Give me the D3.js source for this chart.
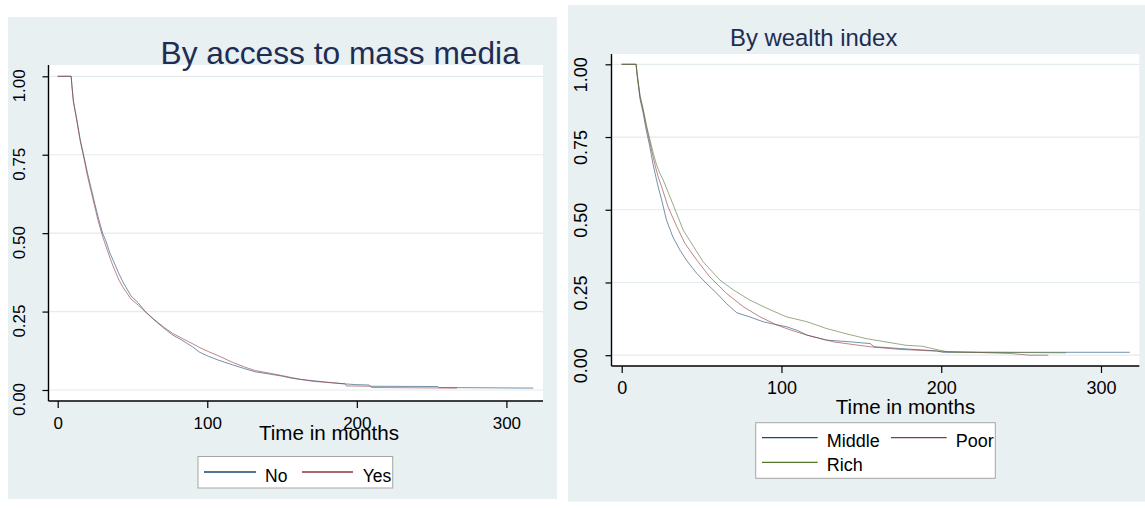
<!DOCTYPE html>
<html>
<head>
<meta charset="utf-8">
<script src="https://cdn.jsdelivr.net/npm/d3@7"></script>
<style>
  html, body { margin: 0; padding: 0; background: #ffffff; }
  svg { display: block; font-family: "Liberation Sans", Arial, Helvetica, sans-serif; }
</style>
</head>
<body>
<svg id="chart" width="1145" height="508"></svg>
<script>
// Kaplan–Meier survival estimates: [time in months, survival probability]
const xTicks = [0, 100, 200, 300];
const yTicks = [0, 0.25, 0.5, 0.75, 1];
const yTickLabels = ["0.00", "0.25", "0.50", "0.75", "1.00"];

const mediaLabels = ["No", "Yes"];
const mediaNo = [[0,1],[9,1],[9.5,0.97],[10.5,0.92],[12.5,0.87],[15,0.8],[17.5,0.745],[20,0.69],[22.5,0.64],[25,0.59],[27,0.552],[30,0.5],[32,0.478],[35,0.435],[37,0.414],[41,0.37],[44,0.341],[49,0.3],[54,0.277],[58.5,0.25],[64,0.225],[71,0.197],[77,0.175],[83,0.159],[90,0.138],[95,0.12],[101,0.107],[107,0.096],[117,0.08],[125,0.068],[132,0.058],[140,0.052],[149,0.045],[156,0.038],[162,0.034],[170,0.03],[180,0.025],[190,0.02],[200,0.017],[208,0.016],[209,0.012],[254,0.011],[255,0.008],[318,0.006]];
const mediaYes = [[0,1],[9,1],[9.5,0.97],[10.5,0.92],[12.5,0.865],[15,0.795],[17.5,0.74],[20,0.68],[22.5,0.63],[25,0.58],[27,0.54],[30,0.49],[32,0.462],[35,0.42],[37,0.395],[41,0.35],[44,0.325],[49,0.29],[54,0.27],[58.5,0.25],[64,0.227],[71,0.2],[77,0.18],[83,0.165],[90,0.148],[95,0.135],[101,0.122],[107,0.11],[117,0.088],[125,0.073],[132,0.062],[140,0.055],[149,0.047],[156,0.04],[162,0.034],[170,0.028],[180,0.024],[192,0.02],[193,0.013],[209,0.012],[210,0.008],[267,0.006]];

const wealthLabels = ["Middle", "Poor", "Rich"];
const wealthMiddle = [[0,1],[9,1],[9.5,0.97],[10,0.945],[11.5,0.88],[13.5,0.83],[15.5,0.77],[17.5,0.72],[19.5,0.66],[21.5,0.61],[23,0.575],[25,0.534],[28,0.465],[32,0.407],[36.5,0.361],[40.5,0.327],[47,0.281],[53,0.247],[59.5,0.213],[65.5,0.178],[72,0.146],[80,0.132],[88.5,0.115],[95,0.107],[103,0.098],[110,0.085],[116,0.069],[128,0.052],[143,0.046],[155.5,0.04],[158,0.029],[174,0.023],[197,0.015],[201,0.01],[318,0.01]];
const wealthPoor = [[0,1],[9,1],[9.5,0.975],[10,0.95],[11.5,0.89],[13.5,0.84],[15.5,0.785],[17.5,0.735],[19.5,0.685],[21.5,0.64],[23,0.61],[25,0.579],[29,0.51],[34.5,0.442],[39.5,0.385],[47,0.327],[55,0.27],[65.5,0.213],[76,0.167],[86.5,0.132],[97,0.104],[105.5,0.087],[116,0.069],[132.5,0.046],[143,0.038],[155.5,0.029],[174,0.02],[197,0.014],[243,0.006],[255.5,0.0],[267,0.0]];
const wealthRich = [[0,1],[9,1],[9.5,0.975],[10,0.955],[11.5,0.89],[13.5,0.845],[15.5,0.79],[17.5,0.745],[19.5,0.7],[21.5,0.66],[23.5,0.63],[26,0.602],[31,0.534],[38.5,0.43],[45,0.373],[51,0.321],[61.5,0.258],[70,0.224],[80,0.19],[91,0.161],[103,0.132],[116,0.115],[128,0.092],[141,0.073],[153,0.057],[165,0.046],[178,0.034],[188,0.031],[199,0.017],[204,0.011],[278,0.008]];

const COLORS = { navy: "#1a476f", maroon: "#90353b", olive: "#55752f" };
const BG = "#e8f0f2";
const GRID = "#e3ebee";
const TITLE = "#1e2d52";

const svg = d3.select("#chart");

function drawPanel(p) {
  const g = svg.append("g");
  // outer region
  g.append("rect").attr("x", p.bg[0]).attr("y", p.bg[1])
    .attr("width", p.bg[2] - p.bg[0]).attr("height", p.bg[3] - p.bg[1]).attr("fill", BG);
  // plot region
  g.append("rect").attr("x", p.plot[0]).attr("y", p.plot[1])
    .attr("width", p.plot[2] - p.plot[0]).attr("height", p.plot[3] - p.plot[1]).attr("fill", "#fff");

  const x = d3.scaleLinear().domain([0, 300]).range(p.xRange);
  const y = d3.scaleLinear().domain([0, 1]).range(p.yRange);

  // horizontal grid
  g.append("g").selectAll("line").data(yTicks).join("line")
    .attr("x1", p.plot[0] + 1).attr("x2", p.plot[2])
    .attr("y1", d => y(d)).attr("y2", d => y(d))
    .attr("stroke", GRID).attr("stroke-width", 1.2);

  // survival curves
  const line = d3.line().x(d => x(d[0])).y(d => y(d[1]));
  p.series.forEach(s => {
    g.append("path").datum(s.values).attr("d", line)
      .attr("fill", "none").attr("stroke", s.color)
      .attr("stroke-width", 1).attr("stroke-opacity", 0.6)
      .attr("stroke-linejoin", "round");
  });

  // y axis
  const yAxis = g.append("g").attr("transform", `translate(${p.plot[0]},0)`)
    .call(d3.axisLeft(y).tickValues(yTicks).tickSize(6).tickFormat((d, i) => yTickLabels[i]));
  yAxis.select(".domain").attr("d", `M0,${p.plot[1]}V${p.plot[3]}`).attr("stroke", "#000").attr("stroke-width", 1.4);
  yAxis.selectAll(".tick line").attr("stroke", "#000").attr("stroke-width", 1.2);
  yAxis.selectAll(".tick text")
    .attr("x", null).attr("dy", null)
    .attr("transform", `translate(${p.yLabelX - p.plot[0]},${p.yLabelShift}) rotate(-90)`)
    .attr("text-anchor", "middle")
    .attr("font-size", p.tickFont).attr("fill", "#000");

  // x axis
  const xAxis = g.append("g").attr("transform", `translate(0,${p.plot[3]})`)
    .call(d3.axisBottom(x).tickValues(xTicks).tickSize(7).tickFormat(d3.format("d")));
  xAxis.select(".domain").attr("d", `M${p.plot[0]},0H${p.plot[2]}`).attr("stroke", "#000").attr("stroke-width", 1.4);
  xAxis.selectAll(".tick line").attr("stroke", "#000").attr("stroke-width", 1.2);
  xAxis.selectAll(".tick text").attr("y", p.xLabelY - p.plot[3]).attr("dy", null)
    .attr("font-size", p.tickFont).attr("fill", "#000");
  [xAxis, yAxis].forEach(a => a.attr("font-family", null).attr("font-size", null));

  // titles
  g.append("text").attr("x", p.title.x).attr("y", p.title.y)
    .attr("font-size", p.title.size).attr("fill", TITLE).text(p.title.text);
  g.append("text").attr("x", p.xTitle.x).attr("y", p.xTitle.y).attr("text-anchor", "middle")
    .attr("font-size", p.xTitle.size).attr("fill", "#000").text("Time in months");

  // legend
  const L = p.legend;
  g.append("rect").attr("x", L.box[0]).attr("y", L.box[1])
    .attr("width", L.box[2] - L.box[0]).attr("height", L.box[3] - L.box[1])
    .attr("fill", "#fff").attr("stroke", "#a6a6a6").attr("stroke-width", 1);
  p.series.forEach((s, i) => {
    const it = L.items[i];
    g.append("line").attr("x1", it.x1).attr("x2", it.x2).attr("y1", it.y).attr("y2", it.y)
      .attr("stroke", s.color).attr("stroke-width", 1.3);
    g.append("text").attr("x", it.tx).attr("y", it.ty).attr("font-size", L.size)
      .attr("fill", "#000").text(s.label);
  });
}

drawPanel({
  bg: [8, 17, 557, 499],
  plot: [48.5, 65, 543, 401],
  xRange: [57.7, 506.4],
  yRange: [390, 76.3],
  tickFont: 17,
  yLabelX: 25, yLabelShift: 9,
  xLabelY: 429,
  title: { x: 160.5, y: 64.3, size: 31.7, text: "By access to mass media" },
  xTitle: { x: 329, y: 440, size: 20.6 },
  legend: {
    box: [198, 456.5, 392.7, 488], size: 17.5,
    items: [
      { x1: 204, x2: 256, y: 472, tx: 265, ty: 482 },
      { x1: 302, x2: 353, y: 472, tx: 362.7, ty: 482 }
    ]
  },
  series: [
    { label: mediaLabels[0], values: mediaNo, color: COLORS.navy },
    { label: mediaLabels[1], values: mediaYes, color: COLORS.maroon }
  ]
});

drawPanel({
  bg: [568, 5, 1145, 501.7],
  plot: [611.5, 54, 1139.3, 366],
  xRange: [621.7, 1101],
  yRange: [355.2, 64.3],
  tickFont: 18,
  yLabelX: 586.7, yLabelShift: 10,
  xLabelY: 394,
  title: { x: 730, y: 46, size: 23.9, text: "By wealth index" },
  xTitle: { x: 905.5, y: 413.5, size: 20.5 },
  legend: {
    box: [755.7, 422.7, 995.3, 478.3], size: 18,
    items: [
      { x1: 762, x2: 817.7, y: 437.7, tx: 826.7, ty: 446.7 },
      { x1: 891, x2: 946.7, y: 437.7, tx: 955.7, ty: 446.7 },
      { x1: 762, x2: 817.7, y: 462.3, tx: 826.7, ty: 471.3 }
    ]
  },
  series: [
    { label: wealthLabels[0], values: wealthMiddle, color: COLORS.navy },
    { label: wealthLabels[1], values: wealthPoor, color: COLORS.maroon },
    { label: wealthLabels[2], values: wealthRich, color: COLORS.olive }
  ]
});
</script>
</body>
</html>
